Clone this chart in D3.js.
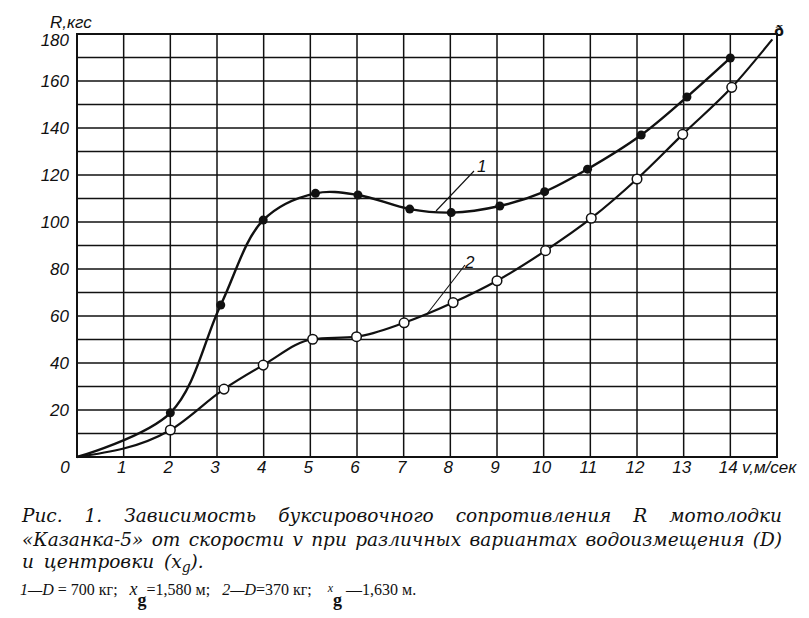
<!DOCTYPE html>
<html><head><meta charset="utf-8">
<script src="https://cdn.jsdelivr.net/npm/d3@7"></script>
<style>
body{margin:0;background:#fff;}
svg{display:block;}
.tk{font-family:"Liberation Sans Narrow","Liberation Sans",sans-serif;font-style:italic;font-size:17px;fill:#111;}
.cap{font-family:"DejaVu Serif",serif;font-style:italic;font-size:18.5px;fill:#111;}
.leg{font-family:"Liberation Serif",serif;font-size:16px;fill:#111;}
</style></head>
<body>
<script>
// ---- data ----
const xTickLabels = [0,1,2,3,4,5,6,7,8,9,10,11,12,13,14];
const yTickLabels = [20,40,60,80,100,120,140,160,180];
// curve 1 (D=700 kg), filled markers
const v1 = [2.0, 3.08, 3.99, 5.11, 6.02, 7.13, 8.02, 9.06, 10.02, 10.94, 12.09, 13.07, 14.0];
const r1 = [18.8, 64.7, 100.8, 112.2, 111.5, 105.5, 104.0, 106.8, 112.9, 122.5, 137.0, 153.2, 169.8];
// curve 2 (D=370 kg), open markers
const v2 = [2.0, 3.15, 3.99, 5.05, 5.99, 7.01, 8.06, 9.0, 10.04, 11.02, 12.0, 12.98, 14.03];
const r2 = [11.5, 28.9, 39.1, 50.1, 51.2, 57.1, 65.7, 75.0, 87.8, 101.6, 118.3, 137.3, 157.3];
// curve ends (line only)
const origin = [0, 0];
const end2 = [14.9, 177.7];

const W = 809, H = 618;
const svg = d3.select("body").append("svg").attr("width", W).attr("height", H);
const x = d3.scaleLinear().domain([0, 15]).range([77, 777]);
const y = d3.scaleLinear().domain([0, 180]).range([457, 34]);

// grid
const g = svg.append("g").attr("stroke", "#111").attr("fill", "none");
d3.range(1, 15).forEach(v => g.append("line").attr("x1", x(v)).attr("x2", x(v)).attr("y1", y(0)).attr("y2", y(180)).attr("stroke-width", 1.5));
d3.range(10, 180, 10).forEach(v => g.append("line").attr("x1", x(0)).attr("x2", x(15)).attr("y1", y(v)).attr("y2", y(v)).attr("stroke-width", 1.4));
g.append("rect").attr("x", x(0)).attr("y", y(180)).attr("width", x(15) - x(0)).attr("height", y(0) - y(180)).attr("stroke-width", 2);

// ticks
svg.selectAll(".xt").data(xTickLabels).enter().append("text").attr("class", "tk")
  .attr("x", d => d === 0 ? x(0) - 12 : x(d) - 2).attr("y", 473).attr("text-anchor", "middle").text(d => d);
svg.append("text").attr("class", "tk").attr("x", 742).attr("y", 473).text("v,м/сек");
svg.selectAll(".yt").data(yTickLabels).enter().append("text").attr("class", "tk")
  .attr("x", 69).attr("y", d => y(d) + (d === 180 ? 12 : 6)).attr("text-anchor", "end").text(d => d);
svg.append("text").attr("class", "tk").attr("x", 50).attr("y", 28).text("R,кгс");
svg.append("text").attr("x", 779).attr("y", 36).attr("text-anchor", "middle").attr("font-family", "DejaVu Sans").attr("font-weight", "bold").attr("font-size", 14).attr("fill", "#111").text("ð");

// curves
const line1 = d3.line().x(d => x(d[0])).y(d => y(d[1])).curve(d3.curveCatmullRom.alpha(0.5));
const line2 = d3.line().x(d => x(d[0])).y(d => y(d[1])).curve(d3.curveMonotoneX);
const p1 = [origin].concat(v1.map((v, i) => [v, r1[i]]));
const p2 = [origin].concat(v2.map((v, i) => [v, r2[i]])).concat([end2]);
svg.append("path").attr("d", line1(p1)).attr("fill", "none").attr("stroke", "#111").attr("stroke-width", 2.4);
svg.append("path").attr("d", line2(p2)).attr("fill", "none").attr("stroke", "#111").attr("stroke-width", 2.2);

svg.selectAll(".m1").data(v1).enter().append("circle").attr("cx", d => x(d)).attr("cy", (d, i) => y(r1[i])).attr("r", 4.5).attr("fill", "#111");
svg.selectAll(".m2").data(v2).enter().append("circle").attr("cx", d => x(d)).attr("cy", (d, i) => y(r2[i])).attr("r", 4.8).attr("fill", "#fff").attr("stroke", "#111").attr("stroke-width", 1.5);

// curve labels with leader lines
svg.append("line").attr("x1", 436).attr("y1", 211).attr("x2", 474).attr("y2", 171).attr("stroke", "#111").attr("stroke-width", 1.1);
svg.append("text").attr("class", "tk").attr("x", 477).attr("y", 172).text("1");
svg.append("line").attr("x1", 427).attr("y1", 314).attr("x2", 465).attr("y2", 265).attr("stroke", "#111").attr("stroke-width", 1.1);
svg.append("text").attr("class", "tk").attr("x", 465).attr("y", 268).text("2");

// caption (justified via word spacing)
function justify(t, width) {
  const txt = t.text();
  const n = (txt.match(/ /g) || []).length;
  const w = t.node().getComputedTextLength();
  if (n > 0) t.attr("word-spacing", (width - w) / n);
}
const c1 = svg.append("text").attr("class", "cap").attr("x", 22).attr("y", 522)
  .text("Рис. 1. Зависимость буксировочного сопротивления R мотолодки");
justify(c1, 760);
const c2 = svg.append("text").attr("class", "cap").attr("x", 22).attr("y", 546)
  .text("«Казанка-5» от скорости v при различных вариантах водоизмещения (D)");
justify(c2, 760);
const c3 = svg.append("text").attr("class", "cap").attr("x", 22).attr("y", 568).attr("word-spacing", 4);
c3.append("tspan").text("и центровки (x");
c3.append("tspan").attr("dy", 4).attr("font-size", 14).text("g");
c3.append("tspan").attr("dy", -4).text(").");

const S = "\u00a0";
const l = svg.append("text").attr("class", "leg").attr("x", 20).attr("y", 595);
l.append("tspan").attr("font-style", "italic").text("1—D");
l.append("tspan").text(S + "=" + S + "700 кг;" + S + S + S);
l.append("tspan").attr("font-style", "italic").attr("font-size", 18).text("x");
l.append("tspan").attr("dy", 11).attr("font-weight", "bold").attr("font-size", 18).text("g");
l.append("tspan").attr("dy", -11).text("=1,580 м;" + S + S + S);
l.append("tspan").attr("font-style", "italic").text("2—D");
l.append("tspan").text("=370 кг;" + S + S + S + S);
l.append("tspan").attr("font-style", "italic").attr("font-size", 12).attr("dy", -3).text("x");
l.append("tspan").attr("dy", 14).attr("font-weight", "bold").attr("font-size", 18).text("g");
l.append("tspan").attr("dy", -11).text(S + "—1,630 м.");
</script>
</body></html>
